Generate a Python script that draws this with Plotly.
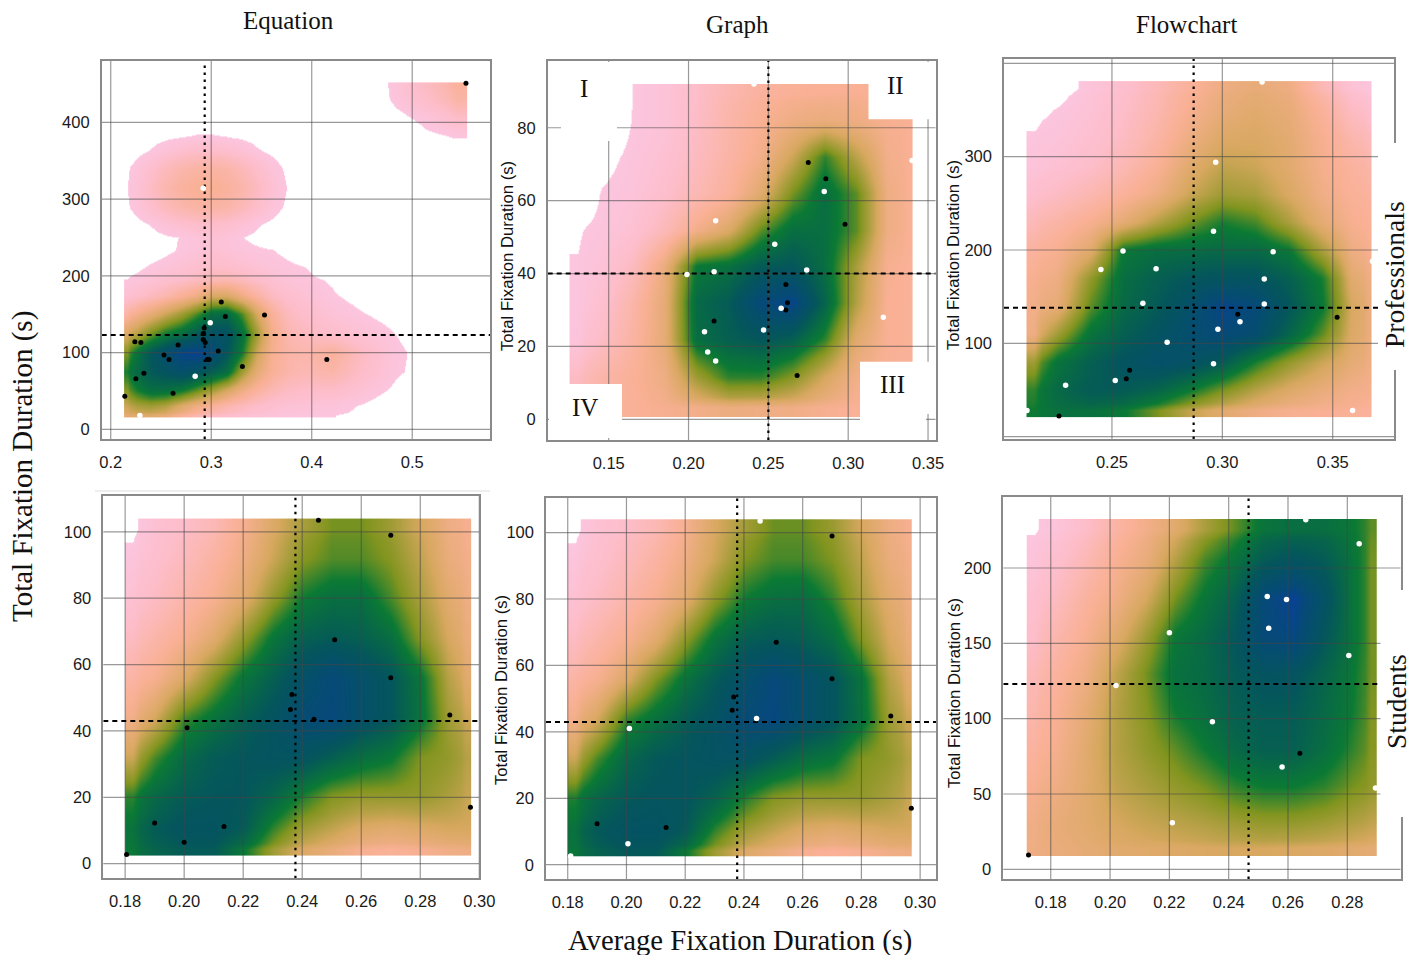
import plotly.graph_objects as go

W, H = 1420, 955
SERIF = "Liberation Serif"
SANS = "Liberation Sans"

# ---------- density surfaces (level < 0 = blank) ----------
eq_gx = [.2133, .225, .24, .255, .27, .285, .30, .315, .33, .345, .36, .375, .39, .42, .45, .48, .51, .555]
eq_gy = [452, 430, 410, 395, 380, 365, 340, 315, 290, 265, 250, 235, 215, 195, 175, 150, 125, 100, 75, 50, 30, 15]
eq_z = [
    [-2, -2, -2, -2, -2, -2, -2, -2, -2, -2, -2, -2, -2, -2, -1.2, .2, 1.2, 2.3],
    [-2, -2, -2, -2, -2, -2, -2, -2, -2, -2, -2, -2, -2, -2, -1, .1, 1, 2],
    [-2, -2, -2, -2, -2, -2, -2, -2, -2, -2, -2, -2, -2, -2, -1.2, -.3, .4, 1.2],
    [-2, -2, -1.5, -1, -.6, -.3, -.3, -.5, -1, -1.5, -2, -2, -2, -2, -2, -.8, .08, .6],
    [-.9, -.6, -.3, -.1, .05, .15, .16, .08, -.06, -.3, -.5, -.9, -1.3, -2, -2, -1.5, -.25, .03],
    [-.5, -.23, .05, .43, .76, .96, .98, .81, .52, .11, -.17, -.5, -.9, -2, -2, -2, -2, -2],
    [-.13, .22, .83, 1.41, 1.82, 2.06, 2.08, 1.9, 1.51, .95, .34, -.13, -.5, -2, -2, -2, -2, -2],
    [-.03, .48, 1.16, 1.78, 2.21, 2.46, 2.48, 2.28, 1.9, 1.28, .61, 0, -.4, -2, -2, -2, -2, -2],
    [-.13, .22, .83, 1.41, 1.82, 2.06, 2.08, 1.9, 1.51, .95, .34, -.13, -.5, -2, -2, -2, -2, -2],
    [-.5, -.23, .05, .43, .76, .96, .98, .81, .52, .11, -.17, -.5, -.9, -2, -2, -2, -2, -2],
    [-.9, -.6, -.3, -.1, .02, .3, .5, .3, .03, -.2, -.5, -.9, -1.3, -2, -2, -2, -2, -2],
    [-1, -.8, -.5, -.2, .1, .3, .6, .4, .2, .1, .03, -.2, -.5, -1, -2, -2, -2, -2],
    [-.5, -.25, .03, .25, .45, .7, .9, .8, .6, .4, .25, .1, -.05, -.7, -1.5, -2, -2, -2],
    [.05, .25, .5, .75, 1, 1.3, 1.6, 1.7, 1.4, 1, .6, .4, .25, -.1, -1, -2, -2, -2],
    [.6, .9, 1.3, 1.8, 2.4, 3, 3.9, 3.9, 3, 2.1, 1.3, .8, .5, .1, -.3, -1.2, -2, -2],
    [2, 2.7, 3.4, 4.2, 5, 6, 7, 7.2, 6, 4, 2.4, 1.4, .9, .4, .05, -.3, -1, -2],
    [3.8, 4.6, 5.6, 6.5, 7, 7.8, 8.4, 8.3, 7, 5, 2.8, 1.8, 1.3, .9, .5, .05, -.5, -2],
    [5.5, 6.8, 8, 8.8, 9.6, 9.8, 9.2, 8, 6.5, 4.2, 2.6, 2, 1.8, 2.3, 1.2, .3, -.3, -2],
    [6.4, 7.2, 7.8, 8.2, 8.6, 8.2, 7.6, 7, 5, 3.4, 2.4, 1.9, 1.6, 1.9, 1, .2, -.3, -2],
    [5.4, 6.4, 7, 7, 6.6, 5.8, 5, 4, 3, 2.2, 1.6, 1.2, 1, 1, .5, -.1, -1, -2],
    [4.2, 4.8, 5, 4.7, 3.8, 3, 2.4, 1.8, 1.4, 1, .7, .5, .4, .25, -.05, -.6, -1.2, -2],
    [3.4, 3.6, 3.6, 3.2, 2.4, 1.7, 1.2, .9, .6, .4, .3, .2, .1, .03, -.2, -.8, -1.5, -2],
]

gr_gx = [.1255, .145, .165, .185, .205, .225, .245, .265, .285, .305, .325, .3405]
gr_gy = [92, 82, 72, 62, 52, 42, 32, 22, 12, .5]
gr_z = [
    [-3, -2, .02, .4, 1, 1.7, 2.2, 2.4, 2.5, 2.5, 2.5, 2.5],
    [-2.5, -1, .05, .4, 1.1, 1.9, 2.5, 3, 3.2, 3, 2.6, 2.5],
    [-2, -.3, .2, .6, 1.3, 2, 2.8, 4.2, 6.2, 4.5, 2.8, 2.5],
    [-1, .05, .3, .9, 1.6, 2.3, 3.6, 5.6, 7, 5.8, 3, 2.5],
    [-.1, .2, .6, 1.5, 2.8, 3.8, 5.8, 7, 7, 5.8, 3, 2.5],
    [.05, .4, 1.3, 3.2, 6.6, 6.9, 7.8, 8, 7, 4.8, 2.6, 2.4],
    [.1, .7, 1.9, 3.4, 7.2, 7.8, 9.2, 9.6, 7.4, 4.6, 2.5, 2.4],
    [.2, 1.1, 2.1, 3.4, 7, 7.6, 8, 7.6, 6.2, 3.6, 2.5, 2.4],
    [1.2, 1.9, 2.4, 3, 5, 6.2, 6.2, 5.4, 4, 2.8, 2.4, 2.3],
    [1.6, 2.1, 2.4, 2.6, 2.8, 3.1, 3, 2.9, 2.6, 2.4, 2.3, 2.2],
]

fl_gx = [.2113, .225, .24, .255, .27, .285, .30, .315, .33, .345, .36, .3675]
fl_gy = [381, 350, 320, 290, 260, 230, 200, 170, 140, 110, 80, 50, 21]
fl_z = [
    [-1.5, -.5, .3, .8, 1.5, 2.3, 3, 3.3, 3, 1.6, .5, .2],
    [-.3, .05, .5, 1, 1.7, 2.6, 3.3, 3.6, 3.3, 2.3, 1.2, .8],
    [.1, .3, .7, 1.2, 2, 3, 3.8, 3.9, 3.5, 2.6, 1.8, 1.4],
    [.3, .6, 1, 1.6, 2.4, 3.6, 4.4, 4.2, 3.6, 2.7, 2.2, 1.9],
    [.8, 1.2, 1.7, 2.3, 3, 4.2, 5, 4.8, 3.9, 2.9, 2.4, 2.2],
    [1.5, 2, 2.6, 3.4, 4.6, 5.6, 6.4, 6, 4.8, 3.4, 2.6, 2.4],
    [2.2, 2.6, 3.6, 6.6, 7, 7.1, 7.2, 7.2, 6.6, 4.8, 3, 2.6],
    [2.6, 3, 5.2, 7, 7.6, 8, 8.2, 8.2, 7.6, 6.4, 3.6, 3],
    [2.8, 3.4, 5.8, 7.2, 7.8, 8.6, 9.6, 9.2, 8, 6.6, 4, 3.2],
    [3, 5, 6.8, 7.6, 8.2, 8.8, 9.2, 8.8, 7.4, 5.8, 3.8, 3.2],
    [5, 6.8, 7.6, 8.2, 8.6, 8.4, 7.8, 6.4, 5.2, 4.2, 3.4, 3],
    [6.2, 7.2, 7.8, 7.8, 7.4, 6.6, 5.6, 4.6, 3.8, 3.2, 2.8, 2.7],
    [6.5, 6.9, 6.9, 6.6, 5.6, 4.4, 3.6, 3, 2.6, 2.5, 2.4, 2.3],
]

st_gx = [.18, .19, .20, .21, .22, .23, .24, .25, .26, .27, .28, .29, .2972]
st_gy = [104, 92, 80, 68, 56, 44, 32, 20, 10, 2.5]
st_eq_z = [
    [-.3, .6, 1, 1.6, 2.6, 3.8, 4.8, 5.6, 5.6, 5, 4, 3, 2.6],
    [.2, .8, 1.4, 2.1, 3, 4.2, 5.4, 5.9, 5.9, 5.4, 4.4, 3.2, 2.8],
    [.6, 1.2, 1.9, 2.6, 3.6, 5.2, 6.5, 7, 7, 6, 4.8, 3.6, 3],
    [1.2, 1.9, 2.6, 3.6, 5.2, 6.7, 7.6, 7.8, 7.6, 7, 5.4, 4, 3.2],
    [2, 2.6, 3.8, 5.4, 6.7, 7.6, 8.5, 9.2, 8.6, 8, 6.7, 4.6, 3.6],
    [2.8, 4, 6, 6.8, 7.6, 8.2, 9, 9.3, 8.6, 8, 6.8, 5, 4.2],
    [4.2, 6, 7.2, 7.8, 8, 8.2, 8.2, 7.6, 7, 6.6, 5.5, 5.2, 4.6],
    [6.2, 7.2, 7.8, 8, 8, 7.4, 6.4, 5.5, 5.2, 5.2, 5.2, 4.8, 4.3],
    [6.8, 7.8, 8.2, 8.2, 7.8, 6.2, 5, 4.4, 3.8, 3.6, 3.8, 4, 4],
    [6.6, 7.4, 7.8, 7.8, 6.6, 5, 3.8, 3.2, 2.6, 2.4, 2.6, 2.9, 3],
]
st_gr_z = [
    [-.3, .6, 1, 1.6, 2.6, 3.9, 4.9, 5.7, 5.7, 5.1, 4, 3, 2.6],
    [.2, .8, 1.4, 2.1, 3, 4.2, 5.5, 6, 6, 5.5, 4.4, 3.2, 2.8],
    [.6, 1.2, 1.9, 2.6, 3.6, 5.3, 6.5, 7, 7.1, 6.2, 4.8, 3.6, 3],
    [1.2, 1.9, 2.6, 3.6, 5.3, 6.8, 7.7, 7.9, 7.7, 7.1, 5.5, 4, 3.2],
    [2, 2.6, 3.8, 5.5, 6.8, 7.8, 8.6, 9.3, 8.7, 8.1, 6.8, 4.6, 3.6],
    [2.8, 4, 6.1, 6.9, 7.7, 8.3, 9.1, 9.4, 8.7, 8.1, 6.9, 5, 4.2],
    [4.2, 6, 7.3, 7.9, 8.1, 8.3, 8.3, 7.7, 7, 6.7, 5.5, 5.2, 4.6],
    [6.3, 7.3, 7.9, 8.1, 8.1, 7.5, 6.4, 5.5, 5.2, 5.2, 5.2, 4.8, 4.3],
    [6.9, 7.9, 8.3, 8.3, 7.9, 6.2, 5, 4.4, 3.8, 3.6, 3.8, 4, 4],
    [6.7, 7.5, 7.9, 7.9, 6.6, 5, 3.8, 3.2, 2.6, 2.4, 2.6, 2.9, 3],
]

sf_gx = [.1719, .182, .192, .202, .212, .222, .232, .242, .252, .262, .272, .282, .2899]
sf_gy = [232.5, 205, 180, 155, 130, 105, 80, 55, 30, 8.6]
sf_z = [
    [-.1, .3, 1, 2, 2.8, 3.6, 4.8, 5.8, 6.8, 7, 7, 6.6, 5.8],
    [.3, .8, 1.6, 2.5, 3.2, 4.6, 6, 6.8, 7.8, 8.2, 7.8, 6.8, 5.6],
    [.7, 1.3, 2.2, 2.9, 4, 5.6, 6.7, 7.6, 9.2, 9.8, 8.4, 6.8, 5.6],
    [1, 1.8, 2.6, 3.6, 5, 6.6, 7.2, 8, 9.2, 9.4, 8, 6.8, 5.6],
    [1.5, 2.2, 3, 4.4, 5.6, 6.9, 7.2, 7.8, 8.2, 8.2, 7.4, 6.6, 5.6],
    [1.8, 2.5, 3.4, 4.6, 5.4, 6.5, 7, 7.6, 7.8, 7.8, 7.2, 6.5, 5.5],
    [2.2, 2.7, 3.6, 4.6, 5.2, 5.8, 6.5, 7.2, 7.6, 7.6, 7, 6.2, 5.4],
    [2.6, 3, 3.6, 4.4, 4.8, 5.2, 5.6, 6.2, 6.5, 6.5, 6.2, 5.6, 5.2],
    [2.9, 3.3, 3.6, 4, 4.3, 4.5, 4.7, 5, 5.2, 5.2, 5, 4.7, 4.4],
    [3, 3.2, 3.4, 3.6, 3.7, 3.8, 3.9, 4, 4, 3.9, 3.8, 3.6, 3.4],
]

# ---------- participant points ----------
eq_pro_black_x = [.5535, .31, .314, .353, .293, .292, .224, .23, .267, .292, .294, .307, .253, .258, .296, .298, .331, .415, .233, .225, .262, .214]
eq_pro_black_y = [451, 166, 147, 149, 132, 125, 114, 113, 110, 117, 113, 102, 97, 91, 91, 91, 82, 91, 73, 66, 47, 43]
eq_pro_white_x = [.292, .299, .284, .229]
eq_pro_white_y = [314, 139, 69, 18]

gr_pro_black_x = [.275, .286, .298, .261, .262, .261, .216, .268]
gr_pro_black_y = [70.5, 66, 53.5, 37, 32, 30, 27, 12]
gr_pro_white_x = [.241, .285, .217, .254, .216, .274, .199, .258, .247, .21, .212, .217, .322, .34]
gr_pro_white_y = [92, 62.5, 54.5, 48, 40.5, 41, 39.7, 30.5, 24.5, 24, 18.5, 16, 28, 71]

fl_pro_black_x = [.307, .352, .258, .2565, .226]
fl_pro_black_y = [131, 128, 71, 62, 22]
fl_pro_white_x = [.318, .297, .296, .255, .323, .245, .27, .319, .264, .319, .308, .298, .275, .296, .2515, .229, .2115, .359, .368]
fl_pro_white_y = [380, 294, 220, 199, 198, 179, 180, 169, 143, 142, 123, 115, 101, 78, 60, 55, 28, 28, 188]

eq_stu_black_x = [.2455, .27, .251, .27, .2365, .236, .244, .29, .201, .19, .2, .2135, .297, .1805]
eq_stu_black_y = [103.5, 99, 67.5, 56, 51, 46.5, 43.5, 44.8, 41, 12.3, 6.5, 11.2, 17, 2.8]
eq_stu_white_x = []
eq_stu_white_y = []

gr_stu_black_x = [.27, .251, .27, .2365, .236, .29, .19, .2135, .297]
gr_stu_black_y = [99, 67, 56, 50.5, 46.5, 44.8, 12.3, 11.2, 17]
gr_stu_white_x = [.2455, .2443, .201, .2005, .181]
gr_stu_white_y = [103.5, 44, 41, 6.3, 2.6]

fl_stu_black_x = [.264, .1725]
fl_stu_black_y = [77, 9.5]
fl_stu_white_x = [.266, .284, .253, .2595, .2535, .22, .2805, .202, .2345, .258, .221, .2895]
fl_stu_white_y = [232, 216, 181, 179, 160, 157, 142, 122, 98, 68, 31, 54]

# ---------- axes: ticks, medians ----------
x_ticks_eq_pro = [.2, .3, .4, .5]
x_labels_eq_pro = ["0.2", "0.3", "0.4", "0.5"]
y_ticks_eq_pro = [0, 100, 200, 300, 400]
x_ticks_gr_pro = [.15, .20, .25, .30, .35]
x_labels_gr_pro = ["0.15", "0.20", "0.25", "0.30", "0.35"]
y_ticks_gr_pro = [0, 20, 40, 60, 80]
x_ticks_fl_pro = [.25, .30, .35]
x_labels_fl_pro = ["0.25", "0.30", "0.35"]
y_ticks_fl_pro = [100, 200, 300]
y_grid_fl_pro = [0, 100, 200, 300, 400]
x_ticks_stu = [.18, .20, .22, .24, .26, .28, .30]
x_labels_stu = ["0.18", "0.20", "0.22", "0.24", "0.26", "0.28", "0.30"]
y_ticks_stu = [0, 20, 40, 60, 80, 100]
x_ticks_fl_stu = [.18, .20, .22, .24, .26, .28]
x_labels_fl_stu = ["0.18", "0.20", "0.22", "0.24", "0.26", "0.28"]
y_ticks_fl_stu = [0, 50, 100, 150, 200]

COLORSCALE_LEVELS = [(-3, "#ffffff"), (-.0001, "#ffffff"), (0, "#fcc6e0"), (1, "#fdbdca"),
                     (2.5, "#f9b094"), (4, "#d8a860"), (5.5, "#82951f"), (6.5, "#0b7a34"),
                     (8, "#04565c"), (9.2, "#064a78"), (10, "#0a3f9c")]
ZMIN, ZMAX = COLORSCALE_LEVELS[0][0], COLORSCALE_LEVELS[-1][0]
colorscale = [[(v - ZMIN) / (ZMAX - ZMIN), c] for v, c in COLORSCALE_LEVELS]


def edges(samples):
    """Cell edges for the heatmap, so the surface stops at the outer samples."""
    mids = [(a + b) / 2 for a, b in zip(samples[:-1], samples[1:])]
    return [samples[0]] + mids + [samples[-1]]


panels = [
    dict(box=(101.7, 490, 60.7, 439), xr=(.191, .5774), yr=(-12.6, 480.3), gx=eq_gx, gy=eq_gy, z=eq_z,
         bx=eq_pro_black_x, by=eq_pro_black_y, wx=eq_pro_white_x, wy=eq_pro_white_y, mx=.2935, my=123,
         xt=x_ticks_eq_pro, xl=x_labels_eq_pro, yt=y_ticks_eq_pro, yg=y_ticks_eq_pro),
    dict(box=(547.7, 935.7, 60.7, 440), xr=(.1118, .3548), yr=(-5.68, 98.4), gx=gr_gx, gy=gr_gy, z=gr_z,
         bx=gr_pro_black_x, by=gr_pro_black_y, wx=gr_pro_white_x, wy=gr_pro_white_y, mx=.25, my=40,
         xt=x_ticks_gr_pro, xl=x_labels_gr_pro, yt=y_ticks_gr_pro, yg=y_ticks_gr_pro),
    dict(box=(1004, 1394.3, 59, 439), xr=(.2011, .3779), yr=(-2.6, 404.7), gx=fl_gx, gy=fl_gy, z=fl_z,
         bx=fl_pro_black_x, by=fl_pro_black_y, wx=fl_pro_white_x, wy=fl_pro_white_y, mx=.287, my=138,
         xt=x_ticks_fl_pro, xl=x_labels_fl_pro, yt=y_ticks_fl_pro, yg=y_grid_fl_pro),
    dict(box=(103.3, 479.3, 496, 878.3), xr=(.1726, .30), yr=(-4.4, 110.8), gx=st_gx, gy=st_gy, z=st_eq_z,
         bx=eq_stu_black_x, by=eq_stu_black_y, wx=eq_stu_white_x, wy=eq_stu_white_y, mx=.2377, my=43,
         xt=x_ticks_stu, xl=x_labels_stu, yt=y_ticks_stu, yg=y_ticks_stu),
    dict(box=(546, 936, 497.7, 879), xr=(.1726, .3054), yr=(-4.3, 110.5), gx=st_gx, gy=st_gy, z=st_gr_z,
         bx=gr_stu_black_x, by=gr_stu_black_y, wx=gr_stu_white_x, wy=gr_stu_white_y, mx=.2377, my=43,
         xt=x_ticks_stu, xl=x_labels_stu, yt=y_ticks_stu, yg=y_ticks_stu),
    dict(box=(1003.3, 1400.7, 496.7, 879), xr=(.164, .298), yr=(-6.4, 247.3), gx=sf_gx, gy=sf_gy, z=sf_z,
         bx=fl_stu_black_x, by=fl_stu_black_y, wx=fl_stu_white_x, wy=fl_stu_white_y, mx=.2467, my=123,
         xt=x_ticks_fl_stu, xl=x_labels_fl_stu, yt=y_ticks_fl_stu, yg=y_ticks_fl_stu),
]

fig = go.Figure()
GRID = "rgba(70,70,70,.55)"
FRAME = "#8a8a8a"
layout = dict(width=W, height=H, margin=dict(l=0, r=0, t=0, b=0, autoexpand=False), autosize=False,
              paper_bgcolor="white", plot_bgcolor="white", showlegend=False)

for i, p in enumerate(panels, start=1):
    l, r, t, b = p["box"]
    sfx = "" if i == 1 else str(i)
    xref, yref = f"x{sfx}", f"y{sfx}"
    x0, x1 = p["xr"]
    y0, y1 = p["yr"]
    px_x = (x1 - x0) / (r - l)
    px_y = (y1 - y0) / (b - t)
    fig.add_trace(go.Heatmap(x=edges(p["gx"]), y=edges(p["gy"][::-1]), z=p["z"][::-1], zsmooth="best",
                             colorscale=colorscale, zmin=ZMIN, zmax=ZMAX, showscale=False,
                             hoverinfo="skip", xaxis=xref, yaxis=yref))
    # grid lines sit above the surface in the reference, so they are drawn as traces
    gx, gy = [], []
    for v in p["xt"]:
        gx += [v, v, None]
        gy += [y0, y1 + 5 * px_y, None]
    for v in p["yg"]:
        gx += [x0 - 6 * px_x, x1, None]
        gy += [v, v, None]
    fig.add_trace(go.Scatter(x=gx, y=gy, mode="lines", line=dict(color=GRID, width=1.2), cliponaxis=False,
                             hoverinfo="skip", xaxis=xref, yaxis=yref))
    fig.add_trace(go.Scatter(x=[p["mx"], p["mx"]], y=[y0, y1], mode="lines",
                             line=dict(color="black", width=2.2, dash="2.5px,4.5px"),
                             hoverinfo="skip", xaxis=xref, yaxis=yref))
    fig.add_trace(go.Scatter(x=[x0, x1], y=[p["my"], p["my"]], mode="lines",
                             line=dict(color="black", width=2, dash="5px,4px"),
                             hoverinfo="skip", xaxis=xref, yaxis=yref))
    fig.add_trace(go.Scatter(x=p["bx"], y=p["by"], mode="markers", marker=dict(color="black", size=5),
                             cliponaxis=False, xaxis=xref, yaxis=yref))
    fig.add_trace(go.Scatter(x=p["wx"], y=p["wy"], mode="markers", marker=dict(color="white", size=5.5),
                             cliponaxis=False, xaxis=xref, yaxis=yref))
    layout[f"xaxis{sfx}"] = dict(domain=[l / W, r / W], range=[x0, x1], anchor=yref, tickmode="array",
                                 tickvals=p["xt"], ticktext=p["xl"], showgrid=False, zeroline=False,
                                 showline=True, mirror=True, linecolor=FRAME, linewidth=1.5,
                                 ticks="outside", ticklen=7, tickcolor="rgba(0,0,0,0)",
                                 tickfont=dict(family=SANS, size=16.5, color="#1a1a1a"))
    layout[f"yaxis{sfx}"] = dict(domain=[1 - b / H, 1 - t / H], range=[y0, y1], anchor=xref, tickmode="array",
                                 tickvals=p["yt"], showgrid=False, zeroline=False,
                                 showline=True, mirror=True, linecolor=FRAME, linewidth=1.5,
                                 ticks="outside", ticklen=7, tickcolor="rgba(0,0,0,0)",
                                 tickfont=dict(family=SANS, size=16.5, color="#1a1a1a"))


def px_note(text, x, y, size, family=SERIF, angle=0):
    return dict(text=text, x=x / W, y=1 - y / H, xref="paper", yref="paper", showarrow=False,
                xanchor="center", yanchor="middle", textangle=angle,
                font=dict(family=family, size=size, color="#111111"))


def px_patch(x0, x1, y0, y1):
    return dict(type="rect", xref="paper", yref="paper", x0=x0 / W, x1=x1 / W, y0=1 - y1 / H, y1=1 - y0 / H,
                fillcolor="white", line=dict(width=0), layer="above")


layout["shapes"] = [
    px_patch(561, 617, 62, 141), px_patch(868.5, 934, 62, 119.3),
    px_patch(860, 934, 361.7, 414), px_patch(860, 926, 414, 438),
    px_patch(549, 622, 384, 438),
    px_patch(1378, 1412, 143, 370), px_patch(1380.5, 1412, 590, 817),
    dict(type="line", xref="paper", yref="paper", x0=95 / W, x1=490 / W, y0=1 - 491 / H, y1=1 - 491 / H,
         line=dict(color="#dddddd", width=1), layer="above"),
]
YLAB = "Total Fixation Duration (s)"
layout["annotations"] = [
    px_note("Equation", 288, 20, 25), px_note("Graph", 737, 24, 25), px_note("Flowchart", 1186, 24, 25),
    px_note(YLAB, 23, 467, 29, angle=-90),
    px_note("Average Fixation Duration (s)", 740, 940, 28.7),
    px_note("Professionals", 1394, 275, 27.5, angle=-90), px_note("Students", 1396, 702, 27.5, angle=-90),
    px_note(YLAB, 508, 256, 16.7, SANS, -90), px_note(YLAB, 953, 255, 16.7, SANS, -90),
    px_note(YLAB, 501, 690, 16.7, SANS, -90), px_note(YLAB, 954, 693, 16.7, SANS, -90),
    px_note("I", 584, 88, 25), px_note("II", 895, 85, 25), px_note("III", 892, 385, 25), px_note("IV", 585, 407, 25),
]
fig.update_layout(**layout)
fig.write_html("out.html", config=dict(displayModeBar=False, responsive=False),
               post_script="document.documentElement.style.overflow='hidden';document.body.style.margin='0';document.body.style.overflow='hidden';")
